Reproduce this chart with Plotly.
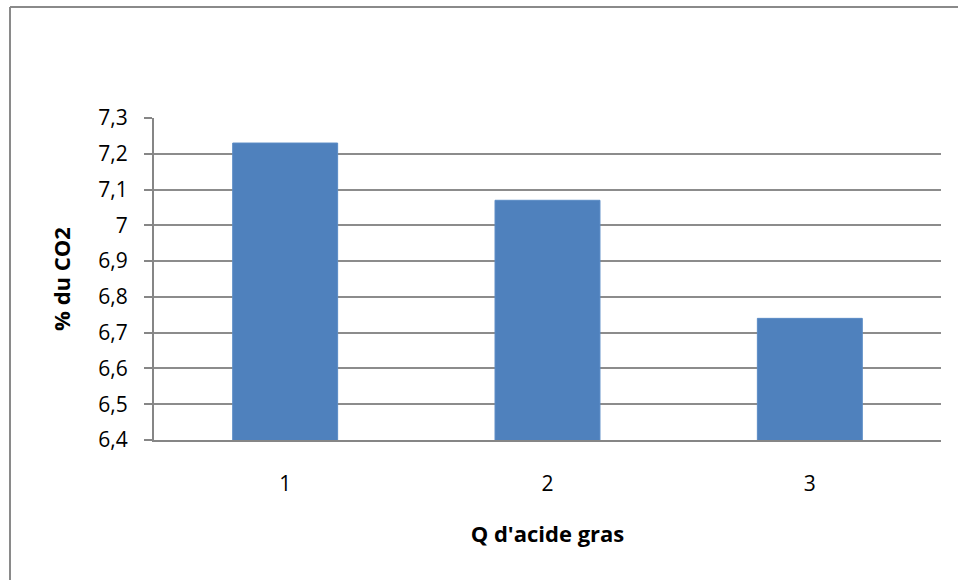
import plotly.graph_objects as go

# Quantité d'acide gras vs pourcentage de CO2
categories = ["1", "2", "3"]
co2_percent = [7.23, 7.07, 6.74]
y_ticks = [6.4, 6.5, 6.6, 6.7, 6.8, 6.9, 7.0, 7.1, 7.2, 7.3]
y_tick_labels = ["6,4", "6,5", "6,6", "6,7", "6,8", "6,9", "7", "7,1", "7,2", "7,3"]

W, H = 958, 580
L, R, T, B = 154, 17, 118, 140
pw, ph = W - L - R, H - T - B

FONT = "Open Sans"
GRAY = "#868686"

fig = go.Figure(
    go.Bar(
        x=categories,
        y=co2_percent,
        width=0.4,
        marker=dict(color="#4F81BD", line=dict(color="#5B8CC6", width=1)),
    )
)

# frame around the chart area (only left and top edges fall inside the page)
bx = (10 - L) / pw
by = (H - B - 7) / ph
fig.add_shape(type="line", xref="paper", yref="paper", x0=bx, x1=bx, y0=by, y1=-1,
              line=dict(color="#8a8a8a", width=2))
fig.add_shape(type="line", xref="paper", yref="paper", x0=bx, x1=2, y0=by, y1=by,
              line=dict(color="#8a8a8a", width=2))

fig.update_layout(
    width=W,
    height=H,
    margin=dict(l=L, r=R, t=T, b=B),
    paper_bgcolor="white",
    plot_bgcolor="white",
    showlegend=False,
    bargap=0.6,
    font=dict(family=FONT, color="black"),
)

fig.update_xaxes(
    type="category",
    showline=True,
    linecolor=GRAY,
    linewidth=2,
    ticks="",
    showgrid=False,
    tickfont=dict(size=21, family=FONT),
    ticklabelstandoff=24,
    title=dict(text="<b>Q d'acide gras</b>", font=dict(size=22, family=FONT), standoff=30),
)

fig.update_yaxes(
    range=[6.4, 7.3],
    tickvals=y_ticks,
    ticktext=y_tick_labels,
    showline=True,
    linecolor=GRAY,
    linewidth=2,
    ticks="outside",
    ticklen=8,
    tickwidth=2,
    tickcolor=GRAY,
    showgrid=True,
    gridcolor="#8c8c8c",
    gridwidth=1.5,
    zeroline=False,
    tickfont=dict(size=21, family=FONT),
    ticklabelstandoff=12,
    title=dict(text="<b>% du CO2</b>", font=dict(size=22, family=FONT), standoff=22),
)

fig.write_html("out.html")
